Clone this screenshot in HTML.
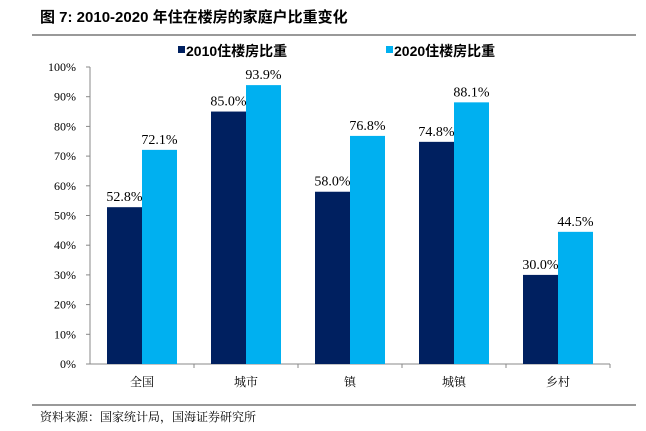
<!DOCTYPE html>
<html><head><meta charset="utf-8"><style>
body{margin:0;background:#fff;width:646px;height:426px;overflow:hidden;font-family:"Liberation Sans","Noto Sans CJK SC",sans-serif}
</style></head><body>
<svg width="646" height="426" xmlns="http://www.w3.org/2000/svg">
<text x="40" y="22" font-size="15" font-weight="bold" fill="#000">图 7:  2010-2020 年住在楼房的家庭户比重变化</text>
<line x1="32" y1="35" x2="636" y2="35" stroke="#333" stroke-width="1"/>
<g font-size="14" font-weight="bold">
<g><rect x="178" y="46" width="7" height="7" fill="#002060"/><text x="186" y="56">2010住楼房比重</text></g>
<g><rect x="386" y="46" width="7" height="7" fill="#00b0f0"/><text x="394" y="56">2020住楼房比重</text></g>
</g>
<g id="plot"></g>
<line x1="32" y1="405" x2="636" y2="405" stroke="#333" stroke-width="1"/>
<text x="40" y="421" font-size="12" fill="#000" font-family="'Liberation Serif','Noto Serif CJK SC',serif">资料来源：国家统计局，国海证券研究所</text>
</svg>
<script>
const categories=["全国","城市","镇","城镇","乡村"];
const values2010=[52.8,85.0,58.0,74.8,30.0];
const values2020=[72.1,93.9,76.8,88.1,44.5];
const yTicks=[0,10,20,30,40,50,60,70,80,90,100];
const NS="http://www.w3.org/2000/svg";
const g=document.getElementById('plot');
const x0=90,x1=610,y0=364,yTop=67;
const y=v=>y0-(v/100)*(y0-yTop);
const band=(x1-x0)/categories.length;
function el(t,a,p){const e=document.createElementNS(NS,t);for(const k in a)e.setAttribute(k,a[k]);(p||g).appendChild(e);return e;}
const serif="'Liberation Serif','Noto Serif CJK SC',serif";
const ax=el('line',{x1:x0,y1:yTop,x2:x0,y2:y0,stroke:'#888'});


yTicks.forEach(t=>{
 const l=el('line',{x1:x0-4,x2:x0,y1:y(t),y2:y(t),stroke:'#888'});
 
 
 const tx=el('text',{x:x0-14,y:y(t)+4,'font-size':12,'text-anchor':'end','font-family':serif});
 tx.textContent=t+'%';
 
 
});
const xa=el('line',{x1:x0,y1:y0,x2:x1,y2:y0,stroke:'#888'});


const bw=35;
categories.forEach((c,i)=>{
 const cx=x0+band*(i+0.5);
 const tk=el('line',{x1:x0+band*(i+1),x2:x0+band*(i+1),y1:y0,y2:y0+4,stroke:'#888'});
 
 
 const lb=el('text',{x:cx,y:y0+22,'font-size':12,'text-anchor':'middle','font-family':serif});
 lb.textContent=c;
 
 
 [[values2010[i],'#002060',cx-bw,'2010'],[values2020[i],'#00b0f0',cx,'2020']].forEach(([v,col,bx,s])=>{
  const r=el('rect',{x:bx,y:y(v),width:bw,height:y0-y(v),fill:col});
  
  
  const t=el('text',{x:bx+bw/2,y:y(v)-6,'font-size':14,'text-anchor':'middle','font-family':serif});
  t.textContent=v.toFixed(1)+'%';
  
  
 });
});
</script>
</body></html>
